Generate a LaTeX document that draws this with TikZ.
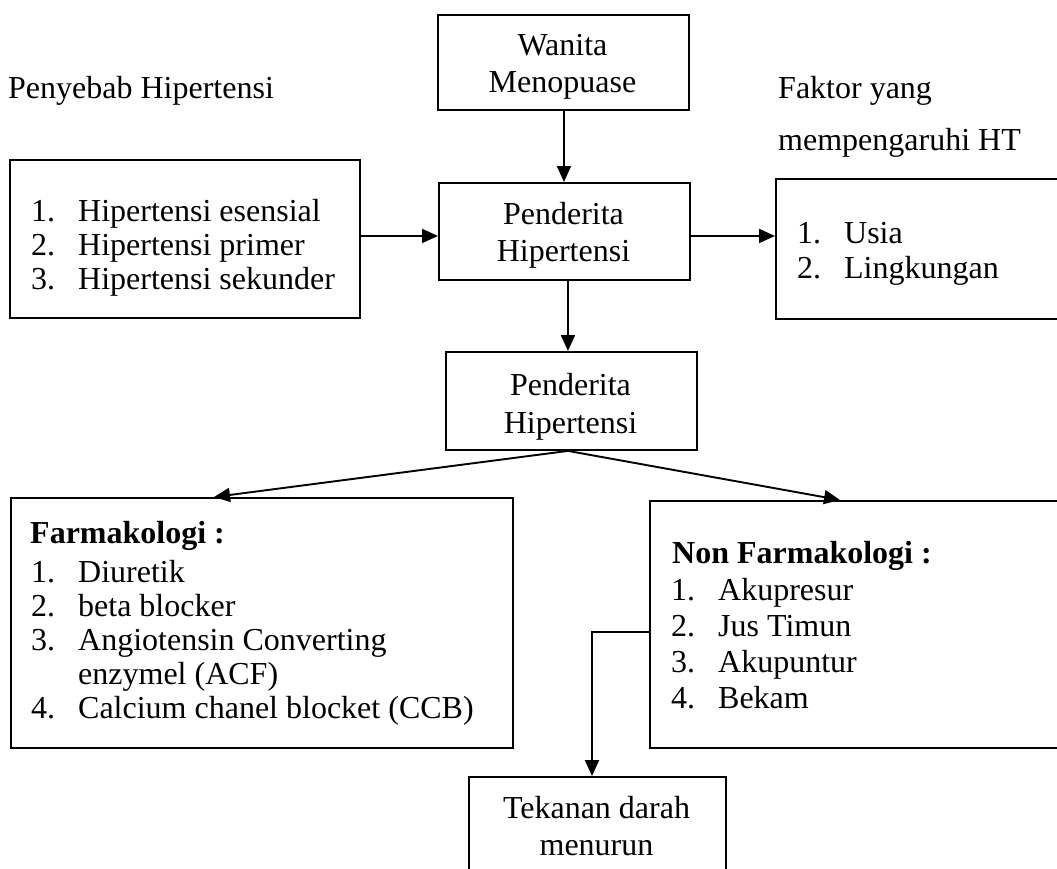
\documentclass[tikz,border=0pt]{standalone}
\usepackage{fontspec}
\setmainfont{Liberation Serif}
\usetikzlibrary{arrows.meta}
\newcommand\fs{\fontsize{32}{34}\selectfont}
\newcommand\itm[2]{\makebox[47pt][l]{#1}#2}
\begin{document}
\begin{tikzpicture}[x=1pt,y=-1pt,
  box/.style={draw, line width=1.9pt, inner sep=0, anchor=north west},
  txt/.style={inner sep=0, anchor=base west, font=\fs},
  ctxt/.style={inner sep=0, anchor=base, font=\fs},
  arr/.style={line width=1.9pt, -{Triangle[length=16pt,width=14pt]}}]
\clip (0,0) rectangle (1057,868);
\fill[white] (0,0) rectangle (1057,868);
% boxes
\node[box, minimum width=251pt, minimum height=95pt] (wanita) at (437,14) {};
\node[box, minimum width=251pt, minimum height=97pt] (pend1) at (438,182) {};
\node[box, minimum width=251pt, minimum height=98pt] (pend2) at (445,351) {};
\node[box, minimum width=350pt, minimum height=158pt] (sebab) at (9,159) {};
\node[box, minimum width=320pt, minimum height=140pt] (faktor) at (775,178) {};
\node[box, minimum width=502pt, minimum height=250pt] (farm) at (10,497) {};
\node[box, minimum width=420pt, minimum height=247pt] (nonfarm) at (649,500) {};
\node[box, minimum width=257pt, minimum height=130pt] (tekanan) at (468,776) {};
% connectors
\draw[arr] ([xshift=0.5pt]wanita.south) -- ([xshift=0.5pt]wanita.south |- pend1.north);
\draw[arr] ([yshift=3pt]sebab.east) -- ([yshift=3pt]sebab.east -| pend1.west);
\draw[arr] ([yshift=-4.5pt]pend1.east) -- ([yshift=-4.5pt]pend1.east -| faktor.west);
\draw[arr] ([xshift=3.5pt]pend1.south) -- ([xshift=3.5pt]pend1.south |- pend2.north);
\draw[arr] ([xshift=-3.5pt]pend2.south) -- ([xshift=204pt]farm.north west);
\draw[arr] ([xshift=-3.5pt]pend2.south) -- ([xshift=191pt]nonfarm.north west);
\draw[arr] ([yshift=-132pt]nonfarm.north west) -| ([xshift=124pt]tekanan.north west);
% texts
\node[txt] (tsebab) at (8,98) {Penyebab Hipertensi};
\node[txt] (tfak1) at (778,98) {Faktor yang};
\node[txt] (tfak2) at (778,150) {mempengaruhi HT};
\node[ctxt] (w1) at (562.5,55) {Wanita};
\node[ctxt] (w2) at (562.5,92) {Menopuase};
\node[ctxt] (p1a) at (563.5,224) {Penderita};
\node[ctxt] (p1b) at (563.5,261) {Hipertensi};
\node[ctxt] (p2a) at (570.5,395) {Penderita};
\node[ctxt] (p2b) at (570.5,433) {Hipertensi};
\node[txt] (s1) at (31,221) {\itm{1.}{Hipertensi esensial}};
\node[txt] (s2) at (31,255) {\itm{2.}{Hipertensi primer}};
\node[txt] (s3) at (31,289) {\itm{3.}{Hipertensi sekunder}};
\node[txt] (f1) at (797,243) {\itm{1.}{Usia}};
\node[txt] (f2) at (797,278) {\itm{2.}{Lingkungan}};
\node[txt] (fmt) at (30,543) {\bfseries Farmakologi :};
\node[txt] (fm1) at (31,582) {\itm{1.}{Diuretik}};
\node[txt] (fm2) at (31,616) {\itm{2.}{beta blocker}};
\node[txt] (fm3) at (31,650) {\itm{3.}{Angiotensin Converting}};
\node[txt] (fm3b) at (78,684) {enzymel (ACF)};
\node[txt] (fm4) at (31,718) {\itm{4.}{Calcium chanel blocket (CCB)}};
\node[txt] (nft) at (672,563) {\bfseries Non Farmakologi :};
\node[txt] (nf1) at (671,600) {\itm{1.}{Akupresur}};
\node[txt] (nf2) at (671,636) {\itm{2.}{Jus Timun}};
\node[txt] (nf3) at (671,672) {\itm{3.}{Akupuntur}};
\node[txt] (nf4) at (671,708) {\itm{4.}{Bekam}};
\node[ctxt] (tk1) at (596.5,818) {Tekanan darah};
\node[ctxt] (tk2) at (596.5,855) {menurun};
\end{tikzpicture}
\end{document}
